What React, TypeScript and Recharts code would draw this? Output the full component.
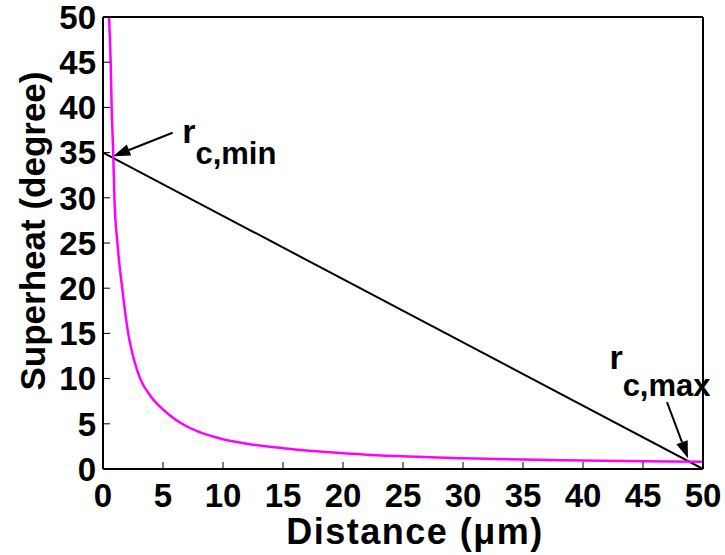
import React from 'react';
import { Line, LineChart, ReferenceDot, ReferenceLine, XAxis, YAxis } from 'recharts';

// superheat curve
const curveX = [0.5, 0.64, 0.72, 0.85, 0.95, 1.2, 1.6, 2.1, 2.6, 3.1, 4, 5, 6, 7, 8, 10, 12, 15, 20, 25, 30, 35, 40, 45, 50];
const curveY = [50, 45, 40, 35, 30, 25, 20, 15, 12, 10, 8, 6.6, 5.5, 4.7, 4.1, 3.3, 2.8, 2.3, 1.75, 1.4, 1.2, 1.05, 0.95, 0.85, 0.8];

// straight line from r_c,min to r_c,max
const lineX = [0, 50];
const lineY = [35, 0];

const xTicks = [0, 5, 10, 15, 20, 25, 30, 35, 40, 45, 50];
const yTicks = [0, 5, 10, 15, 20, 25, 30, 35, 40, 45, 50];

const curveData = curveX.map((x, i) => ({ x, y: curveY[i] }));
const lineData = lineX.map((x, i) => ({ x, y: lineY[i] }));

const FONT = '"Liberation Sans", Arial, sans-serif';
const TICK_SIZE = 33;

const Arrow = (props: any) => {
  const { x1, y1, x2, y2 } = props;
  const ang = Math.atan2(y2 - y1, x2 - x1);
  const len = 17;
  const half = 6;
  const bx = x2 - len * Math.cos(ang);
  const by = y2 - len * Math.sin(ang);
  const px = -Math.sin(ang) * half;
  const py = Math.cos(ang) * half;
  return (
    <g>
      <line x1={x1} y1={y1} x2={bx} y2={by} stroke="#000" strokeWidth={2} />
      <polygon points={`${x2},${y2} ${bx + px},${by + py} ${bx - px},${by - py}`} fill="#000" />
    </g>
  );
};

const subLabel = (sub: string, drop: number) => (props: any) => {
  const { viewBox } = props;
  return (
    <text x={viewBox.x} y={viewBox.y} fontFamily={FONT} fontWeight="bold" fill="#000">
      <tspan fontSize={34}>r</tspan>
      <tspan fontSize={31} dy={drop}>{sub}</tspan>
    </text>
  );
};

const XTitle = (props: any) => {
  const { viewBox } = props;
  return (
    <text x={viewBox.x + viewBox.width / 2 + 12} y={viewBox.y + 75} textAnchor="middle" fontFamily={FONT} fontWeight="bold" fontSize={36} letterSpacing={1.5} fill="#000">
      Distance (μm)
    </text>
  );
};

const YTitle = (props: any) => {
  const { viewBox } = props;
  const cx = viewBox.x + 32;
  const cy = viewBox.y + 214;
  return (
    <text x={cx} y={cy} transform={`rotate(-90 ${cx} ${cy})`} textAnchor="middle" dominantBaseline="central" fontFamily={FONT} fontWeight="bold" fontSize={35} fill="#000">
      Superheat (degree)
    </text>
  );
};

const BottomTick = (props: any) => (
  <text x={props.x} y={props.y} dy="0.71em" textAnchor="middle" fontFamily={FONT} fontWeight="bold" fontSize={TICK_SIZE} fill="#000">
    {props.payload.value}
  </text>
);

const LeftTick = (props: any) => (
  <text x={props.x} y={props.y} dy="0.36em" textAnchor="end" fontFamily={FONT} fontWeight="bold" fontSize={TICK_SIZE} fill="#000">
    {props.payload.value}
  </text>
);

export default function App() {
  return (
    <div style={{ position: 'absolute', left: 0, top: 0, width: 725, height: 555, background: '#fff' }}>
      <LineChart width={725} height={555} margin={{ top: 0, right: 0, bottom: 0, left: 0 }}>
        <XAxis
          dataKey="x"
          type="number"
          domain={[0, 50]}
          ticks={xTicks}
          height={86}
          tick={BottomTick}
          tickSize={-7}
          tickMargin={22}
          axisLine={{ stroke: '#000', strokeWidth: 2 }}
          tickLine={{ stroke: '#000' }}
          label={<XTitle />}
          interval={0}
          allowDataOverflow
        />
        <XAxis
          xAxisId="top"
          orientation="top"
          type="number"
          domain={[0, 50]}
          ticks={xTicks}
          height={17}
          tick={false}
          tickSize={-7}
          axisLine={{ stroke: '#000', strokeWidth: 2 }}
          tickLine={{ stroke: '#000' }}
        />
        <YAxis
          type="number"
          domain={[0, 50]}
          ticks={yTicks}
          width={103}
          tick={LeftTick}
          tickSize={-7}
          tickMargin={14}
          axisLine={{ stroke: '#000', strokeWidth: 2 }}
          tickLine={{ stroke: '#000' }}
          label={<YTitle />}
          interval={0}
          allowDataOverflow
        />
        <YAxis
          yAxisId="right"
          orientation="right"
          type="number"
          domain={[0, 50]}
          ticks={yTicks}
          width={22}
          tick={false}
          tickSize={-7}
          axisLine={{ stroke: '#000', strokeWidth: 2 }}
          tickLine={{ stroke: '#000' }}
        />
        <Line data={lineData} dataKey="y" type="linear" stroke="#000" strokeWidth={2} dot={false} isAnimationActive={false} />
        <Line data={curveData} dataKey="y" type="monotone" stroke="#ff00ff" strokeWidth={2.5} dot={false} isAnimationActive={false} />
        <ReferenceLine segment={[{ x: 5.8, y: 37.2 }, { x: 0.85, y: 34.6 }]} shape={Arrow} />
        <ReferenceLine segment={[{ x: 47, y: 7.4 }, { x: 48.75, y: 1.2 }]} shape={Arrow} />
        <ReferenceDot x={6.6} y={36.1} r={0} fill="none" stroke="none" label={subLabel('c,min', 21)} />
        <ReferenceDot x={42.2} y={11.1} r={0} fill="none" stroke="none" label={subLabel('c,max', 27)} />
      </LineChart>
    </div>
  );
}
